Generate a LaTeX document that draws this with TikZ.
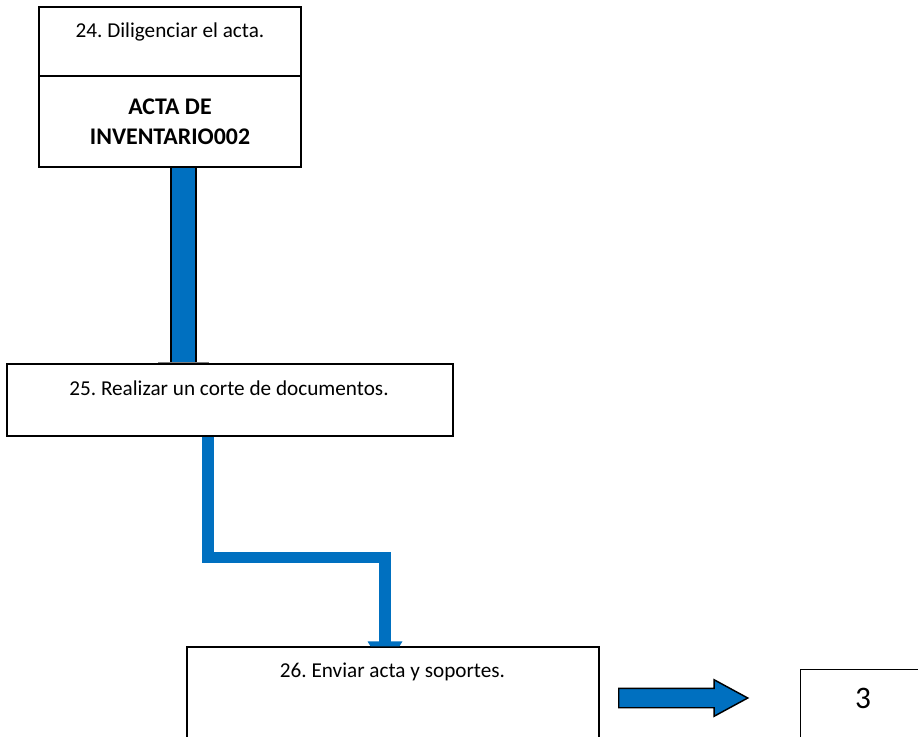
\documentclass[tikz,border=0pt]{standalone}
\usepackage{fontspec}
\setmainfont{Carlito}
\frenchspacing
\usetikzlibrary{calc, positioning, shapes.arrows}

\definecolor{flowblue}{RGB}{0,112,192}

\tikzset{
    actbox/.style={draw, line width=1.1pt, inner sep=0pt},
    acttext/.style={font=\fontsize{15.9}{19}\selectfont, inner sep=0pt},
    flowline/.style={draw=flowblue, line width=8.5pt},
}

\begin{document}
\begin{tikzpicture}[x=0.75pt, y=-0.75pt]
    \useasboundingbox (0,0) rectangle (918,736);
    \clip (0,0) rectangle (918,736);
    % Boxes
    \node[actbox, minimum width=196.5pt, minimum height=120pt] (box24) at (170,87) {};
    \draw[line width=1.1pt] (box24.west |- 0,76) -- (box24.east |- 0,76);
    \node[actbox, minimum width=334.5pt, minimum height=54pt] (box25) at (230,400) {};
    \node[actbox, minimum width=309pt, minimum height=85.5pt] (box26) at (393,704) {};
    \node[actbox, minimum width=104pt, minimum height=68pt] (box3) at (870,715) {};
    % Labels
    \node[acttext] (t24) at (170,32) {24. Diligenciar el acta.};
    \node[acttext, font=\fontsize{17.9}{22.5}\selectfont\bfseries, align=center] (acta) at (170,122) {ACTA DE\\INVENTARIO002};
    \node[acttext] (t25) at (229,388) {25. Realizar un corte de documentos.};
    \node[acttext] (t26) at (392.5,672) {26. Enviar acta y soportes.};
    \node[acttext, font=\fontsize{23.5}{28}\selectfont] (t3) at (863,698) {3};
    % Connectors
    \coordinate (c24) at ($(box24.south)+(13.5,0)$);
    \draw[fill=flowblue, line width=1.1pt] ($(c24)+(-12.5,0)$) rectangle ($(c24 |- box25.north)+(12.5,0)$);
    \draw[gray, line width=1pt] ($(c24 |- box25.north)+(-25.5,-1)$) -- ($(c24 |- box25.north)+(25.5,-1)$);
    \draw[flowline] ([xshift=-16.5pt]box25.south) -- ++(0,121) -| ([xshift=-5.9pt,yshift=2pt]box26.north);
    \fill[flowblue] ($(box26.north)+(-25.5,-5)$) -- ($(box26.north)+(9.5,-5)$) -- ($(box26.north)+(6.5,0)$) -- ($(box26.north)+(-22.5,0)$) -- cycle;
    \node[single arrow, draw, fill=flowblue, line width=1.1pt, minimum height=96.75pt, minimum width=26pt,
          single arrow head extend=6.4pt, single arrow tip angle=57, inner sep=0pt, inner ysep=6.75pt,
          anchor=tail] (move) at (618,698) {};
\end{tikzpicture}
\end{document}
